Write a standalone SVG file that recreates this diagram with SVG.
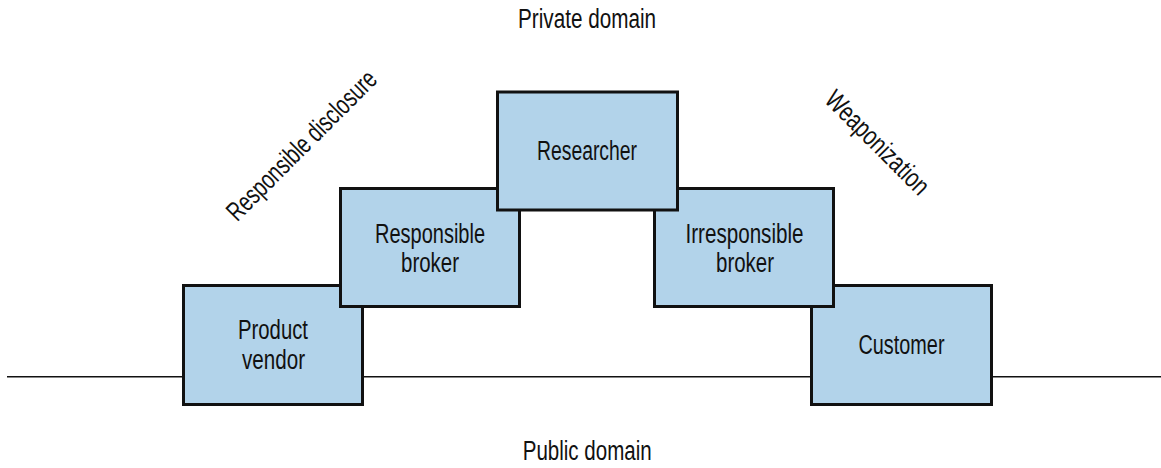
<svg xmlns="http://www.w3.org/2000/svg" width="1161" height="468" viewBox="0 0 1161 468">
<style>
  .box { fill: #b2d3ea; stroke: #111; stroke-width: 3; }
  .lbl { font-family: "Liberation Sans Narrow", "Liberation Sans", Arial, sans-serif; font-size: 27px; fill: #111; text-anchor: middle; }
  .base { stroke: #111; stroke-width: 1.4; fill: none; }
</style>
<rect width="1161" height="468" fill="#fff"/>
<g id="connectors">
  <line class="base" x1="7" y1="376.7" x2="1161" y2="376.7"/>
</g>
<g id="product-vendor">
  <rect class="box" x="183.5" y="285.5" width="179" height="119"/>
  <text class="lbl" x="273" y="339" textLength="70" lengthAdjust="spacingAndGlyphs">Product</text>
  <text class="lbl" x="273.5" y="368.7" textLength="63" lengthAdjust="spacingAndGlyphs">vendor</text>
</g>
<g id="customer">
  <rect class="box" x="811.5" y="285.5" width="180" height="119"/>
  <text class="lbl" x="901.5" y="354.3" textLength="86" lengthAdjust="spacingAndGlyphs">Customer</text>
</g>
<g id="responsible-broker">
  <rect class="box" x="340.5" y="188.5" width="179" height="118"/>
  <text class="lbl" x="430" y="242.7" textLength="110" lengthAdjust="spacingAndGlyphs">Responsible</text>
  <text class="lbl" x="430" y="271.7" textLength="58" lengthAdjust="spacingAndGlyphs">broker</text>
</g>
<g id="irresponsible-broker">
  <rect class="box" x="654.5" y="188.5" width="179" height="118"/>
  <text class="lbl" x="744.5" y="242.7" textLength="118" lengthAdjust="spacingAndGlyphs">Irresponsible</text>
  <text class="lbl" x="745" y="271.7" textLength="58" lengthAdjust="spacingAndGlyphs">broker</text>
</g>
<g id="researcher">
  <rect class="box" x="497.5" y="92" width="180" height="118"/>
  <text class="lbl" x="587" y="160" textLength="100" lengthAdjust="spacingAndGlyphs">Researcher</text>
</g>
<g id="private-domain">
  <text class="lbl" x="587" y="28" textLength="138" lengthAdjust="spacingAndGlyphs">Private domain</text>
</g>
<g id="public-domain">
  <text class="lbl" x="587.2" y="460" textLength="129" lengthAdjust="spacingAndGlyphs">Public domain</text>
</g>
<g id="responsible-disclosure">
  <text class="lbl" transform="translate(308,151.7) rotate(-45)" x="0" y="0" textLength="200" lengthAdjust="spacingAndGlyphs">Responsible disclosure</text>
</g>
<g id="weaponization">
  <text class="lbl" transform="translate(871,149) rotate(45)" x="0" y="0" textLength="135" lengthAdjust="spacingAndGlyphs">Weaponization</text>
</g>
</svg>
